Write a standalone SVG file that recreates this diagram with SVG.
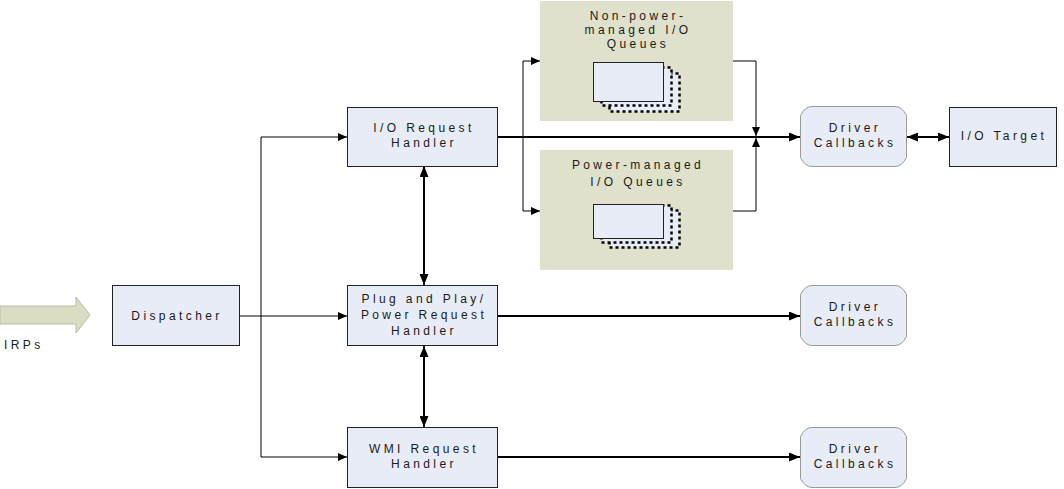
<svg xmlns="http://www.w3.org/2000/svg" width="1064" height="489" viewBox="0 0 1064 489">
<defs>
<marker id="ah" markerWidth="11" markerHeight="9" refX="11" refY="4.5" orient="auto-start-reverse" markerUnits="userSpaceOnUse">
<path d="M0,0 L11,4.5 L0,9 Z" fill="#000"/>
</marker>
<marker id="ahs" markerWidth="9" markerHeight="8" refX="9" refY="4" orient="auto-start-reverse" markerUnits="userSpaceOnUse">
<path d="M0,0 L9,4 L0,8 Z" fill="#000"/>
</marker>
</defs>
<style>
text{font-family:"Liberation Sans",Arial,sans-serif;font-size:12px;fill:#1a1a1a;letter-spacing:3.4px;text-anchor:middle}
.box{fill:#e8ecf7;stroke:#222;stroke-width:1}
.dc{fill:#e8ecf7;stroke:#999;stroke-width:1}
.q{fill:#dfe1cc;stroke:none}
.thin{fill:none;stroke:#000;stroke-width:1}
.thick{fill:none;stroke:#000;stroke-width:2}
.dot{fill:#e8ecf7;stroke:#000;stroke-width:2.5;stroke-dasharray:3 3}
</style>
<rect width="1064" height="489" fill="#fff"/>
<g id="irps">
<path d="M0,306 L76,306 L76,297 L90,315 L76,333 L76,324 L0,324 Z" fill="#dadcc4" stroke="#b9bca4" stroke-width="1"/>
<text x="4" y="349" style="text-anchor:start">IRPs</text>
</g>
<g id="connectors">
<polyline class="thin" points="239,316 261,316"/>
<polyline class="thin" points="261,316 347,316" marker-end="url(#ahs)"/>
<polyline class="thin" points="261,316 261,137 347,137" marker-end="url(#ahs)"/>
<polyline class="thin" points="261,316 261,457 347,457" marker-end="url(#ahs)"/>
<polyline class="thick" points="498,137 800,137" marker-end="url(#ah)"/>
<polyline class="thin" points="523,137 523,61 540,61" marker-end="url(#ahs)"/>
<polyline class="thin" points="523,137 523,211 540,211" marker-end="url(#ahs)"/>
<polyline class="thin" points="733,61 756,61 756,136" marker-end="url(#ahs)"/>
<polyline class="thin" points="733,211 756,211 756,138" marker-end="url(#ahs)"/>
<polyline class="thick" points="907,137 949,137" marker-start="url(#ah)" marker-end="url(#ah)"/>
<polyline class="thick" points="424,166 424,285" marker-start="url(#ah)" marker-end="url(#ah)"/>
<polyline class="thick" points="424,346 424,427" marker-start="url(#ah)" marker-end="url(#ah)"/>
<polyline class="thick" points="498,316 800,316" marker-end="url(#ah)"/>
<polyline class="thick" points="498,457 800,457" marker-end="url(#ah)"/>
</g>
<g id="dispatcher">
<rect class="box" x="112.5" y="285.5" width="127" height="60"/>
<text x="177" y="320">Dispatcher</text>
</g>
<g id="io-request-handler">
<rect class="box" x="347.5" y="107.5" width="150" height="59"/>
<text x="424" y="132">I/O Request</text>
<text x="424" y="147">Handler</text>
</g>
<g id="pnp-handler">
<rect class="box" x="347.5" y="285.5" width="150" height="60"/>
<text x="424" y="303">Plug and Play/</text>
<text x="424" y="319">Power Request</text>
<text x="424" y="335">Handler</text>
</g>
<g id="wmi-handler">
<rect class="box" x="347.5" y="427.5" width="150" height="60"/>
<text x="424" y="453">WMI Request</text>
<text x="424" y="468">Handler</text>
</g>
<g id="non-power-queues">
<rect class="q" x="540" y="1" width="193" height="120"/>
<text x="638" y="20">Non-power-</text>
<text x="638" y="34">managed I/O</text>
<text x="638" y="48">Queues</text>
<rect class="dot" x="609.5" y="73.5" width="70" height="38"/>
<rect class="dot" x="601.5" y="67.5" width="70" height="38"/>
<rect class="box" x="593.5" y="62.5" width="70" height="39"/>
</g>
<g id="power-queues">
<rect class="q" x="540" y="150" width="193" height="120"/>
<text x="638" y="169">Power-managed</text>
<text x="638" y="186">I/O Queues</text>
<rect class="dot" x="609.5" y="210.5" width="70" height="37"/>
<rect class="dot" x="601.5" y="205.5" width="70" height="37"/>
<rect class="box" x="593.5" y="204.5" width="70" height="34"/>
</g>
<g id="driver-callbacks-1">
<path class="dc" d="M812,106.5 H895 Q902,106.5 906.5,115.5 V157.5 Q902,166.5 895,166.5 H812 Q805,166.5 800.5,157.5 V115.5 Q805,106.5 812,106.5 Z"/>
<text x="855" y="132">Driver</text>
<text x="855" y="147">Callbacks</text>
</g>
<g id="io-target">
<rect class="box" x="949.5" y="107.5" width="107" height="59"/>
<text x="1004" y="140">I/O Target</text>
</g>
<g id="driver-callbacks-2">
<path class="dc" d="M812,285.5 H895 Q902,285.5 906.5,294.5 V336.5 Q902,345.5 895,345.5 H812 Q805,345.5 800.5,336.5 V294.5 Q805,285.5 812,285.5 Z"/>
<text x="855" y="311">Driver</text>
<text x="855" y="326">Callbacks</text>
</g>
<g id="driver-callbacks-3">
<path class="dc" d="M812,427.5 H895 Q902,427.5 906.5,436.5 V478.5 Q902,487.5 895,487.5 H812 Q805,487.5 800.5,478.5 V436.5 Q805,427.5 812,427.5 Z"/>
<text x="855" y="453">Driver</text>
<text x="855" y="468">Callbacks</text>
</g>
</svg>
